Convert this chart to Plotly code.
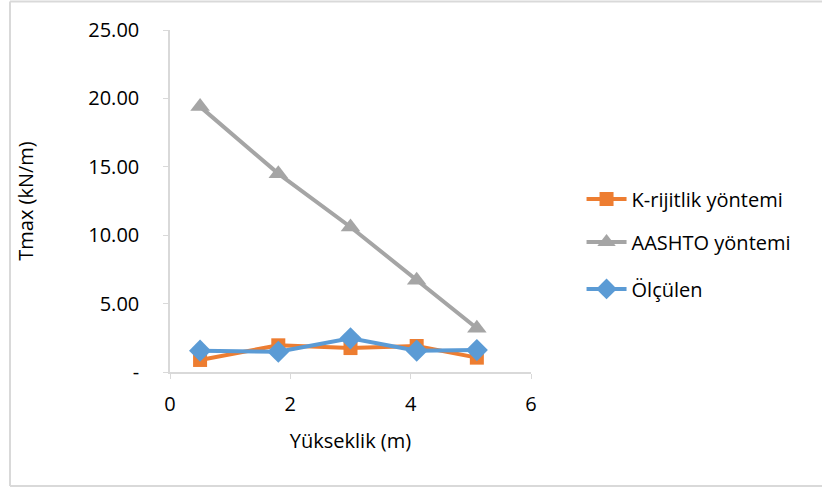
import plotly.graph_objects as go

x_vals = [0.5, 1.8, 3.0, 4.1, 5.1]
k_rijitlik = [0.88, 1.95, 1.75, 1.9, 1.05]
aashto = [19.4, 14.5, 10.6, 6.7, 3.2]
olculen = [1.56, 1.48, 2.46, 1.56, 1.6]

y_tickvals = [0, 5, 10, 15, 20, 25]
y_ticktext = ["-", "5.00", "10.00", "15.00", "20.00", "25.00"]
x_tickvals = [0, 2, 4, 6]

FONT = "Open Sans"
FS = 20

fig = go.Figure()
fig.add_trace(go.Scatter(x=x_vals, y=aashto, name="AASHTO yöntemi", mode="lines+markers",
                         legend="legend2",
                         line=dict(color="#A5A5A5", width=4),
                         marker=dict(symbol="triangle-up", size=17, color="#A5A5A5")))
fig.add_trace(go.Scatter(x=x_vals, y=k_rijitlik, name="K-rijitlik yöntemi", mode="lines+markers",
                         legend="legend",
                         line=dict(color="#ED7D31", width=4),
                         marker=dict(symbol="square", size=14, color="#ED7D31")))
fig.add_trace(go.Scatter(x=x_vals, y=olculen, name="Ölçülen", mode="lines+markers",
                         legend="legend3",
                         line=dict(color="#5B9BD5", width=4),
                         marker=dict(symbol="diamond", size=17, color="#5B9BD5")))

leg_common = dict(xanchor="left", yanchor="middle", font=dict(family=FONT, size=FS),
                  bgcolor="rgba(0,0,0,0)", itemwidth=40)

fig.update_layout(
    width=822, height=488,
    margin=dict(l=170, r=291, t=30, b=116),
    paper_bgcolor="white", plot_bgcolor="white",
    font=dict(family=FONT, size=FS, color="#000000"),
    showlegend=True,
    legend=dict(x=1.14, y=0.506, **leg_common),
    legend2=dict(x=1.14, y=0.380, **leg_common),
    legend3=dict(x=1.14, y=0.243, **leg_common),
    xaxis=dict(range=[0, 6], tickvals=x_tickvals, showgrid=False, zeroline=False,
               showline=True, linecolor="#D9D9D9", linewidth=1.5,
               ticks="outside", ticklen=5, tickcolor="#D9D9D9",
               ticklabelstandoff=8,
               title=dict(text="Yükseklik (m)", font=dict(family=FONT, size=FS), standoff=18)),
    yaxis=dict(range=[0, 25], tickvals=y_tickvals, ticktext=y_ticktext, showgrid=False,
               zeroline=False, showline=True, linecolor="#D9D9D9", linewidth=1.5,
               ticks="outside", ticklen=5, tickcolor="#D9D9D9",
               ticklabelstandoff=20,
               title=dict(text="Tmax (kN/m)", font=dict(family=FONT, size=FS), standoff=49)),
    shapes=[
        dict(type="line", xref="paper", yref="paper", x0=-0.4432, x1=-0.4432, y0=-0.3333, y1=1.0833,
             line=dict(color="#D9D9D9", width=2)),
        dict(type="line", xref="paper", yref="paper", x0=-0.4432, x1=1.81, y0=1.0833, y1=1.0833,
             line=dict(color="#D9D9D9", width=2)),
        dict(type="line", xref="paper", yref="paper", x0=-0.4432, x1=1.81, y0=-0.3333, y1=-0.3333,
             line=dict(color="#D9D9D9", width=2)),
    ],
)

fig.write_html("out.html", config={"displayModeBar": False},
               post_script="document.body.style.margin='0';")
